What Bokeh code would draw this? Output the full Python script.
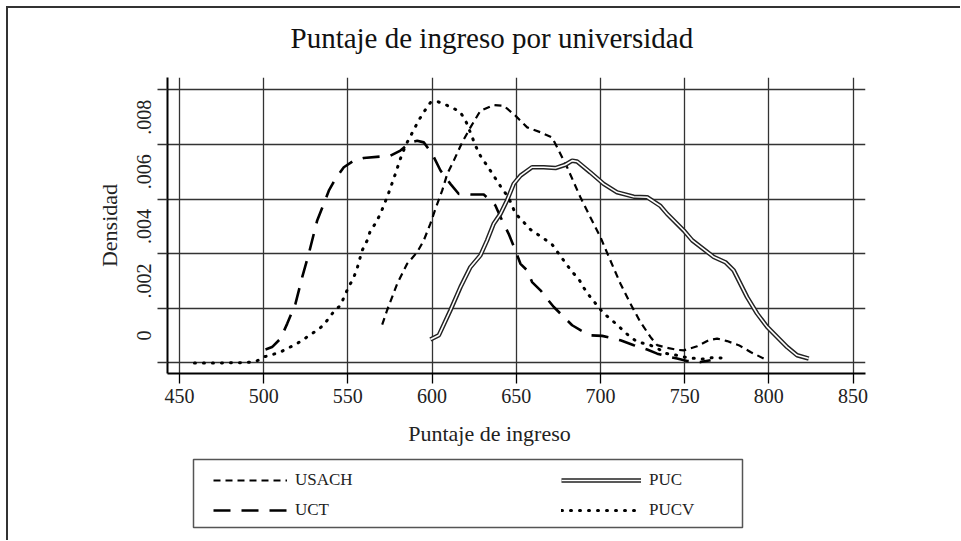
from bokeh.plotting import figure
from bokeh.layouts import column
from bokeh.models import FixedTicker, Legend, LegendItem, Range1d, Label, BoxAnnotation
from bokeh.embed import file_html
from bokeh.resources import INLINE

# ---------------- data ----------------
usach_x = [570.4, 573.3, 579.3, 585.2, 591.2, 595.1, 599.0, 602.0, 606.0, 609.0, 612.9, 617.9,
           622.8, 628.7, 636.6, 642.6, 649.5, 656.5, 664.4, 671.3, 674.3, 680.2, 688.1, 694.0,
           700.0, 705.9, 711.9, 717.8, 723.7, 729.7, 733.7, 739.6, 745.5, 749.5, 757.4, 764.3,
           769.3, 775.2, 782.1, 789.1, 797.0]
usach_y = [0.00140, 0.00193, 0.00290, 0.00363, 0.00406, 0.00449, 0.00510, 0.00564, 0.00631,
           0.00692, 0.00741, 0.00808, 0.00863, 0.00924, 0.00945, 0.00942, 0.00906, 0.00863,
           0.00845, 0.00826, 0.00790, 0.00717, 0.00607, 0.00534, 0.00461, 0.00375, 0.00290,
           0.00217, 0.00150, 0.00095, 0.00065, 0.00055, 0.00048, 0.00046, 0.00061, 0.00083,
           0.00089, 0.00080, 0.00065, 0.00040, 0.00016]

uct_x = [501.1, 505.0, 510.0, 514.0, 518.9, 522.9, 526.8, 531.8, 535.7, 538.7, 542.6, 547.6,
         553.5, 559.4, 569.4, 575.3, 581.2, 587.2, 591.2, 595.1, 600.1, 605.0, 610.9, 615.9,
         622.8, 630.7, 634.7, 637.6, 641.6, 645.5, 649.5, 652.5, 656.5, 659.4, 664.4, 668.3,
         672.3, 677.3, 683.2, 688.1, 694.0, 701.0, 707.9, 711.9, 719.8, 727.7, 733.7, 739.6,
         745.5, 751.5, 759.4, 765.4]
uct_y = [0.00049, 0.00058, 0.00089, 0.00144, 0.00217, 0.00314, 0.00400, 0.00522, 0.00583,
         0.00631, 0.00674, 0.00717, 0.00741, 0.00751, 0.00756, 0.00759, 0.00778, 0.00808,
         0.00814, 0.00808, 0.00766, 0.00705, 0.00656, 0.00619, 0.00617, 0.00617, 0.00595,
         0.00577, 0.00522, 0.00473, 0.00412, 0.00363, 0.00339, 0.00296, 0.00266, 0.00235,
         0.00205, 0.00174, 0.00138, 0.00120, 0.00101, 0.00099, 0.00089, 0.00083, 0.00065,
         0.00049, 0.00034, 0.00024, 0.00016, 0.00007, 0.00003, 0.00010]

puc_x = [599.0, 604.0, 610.9, 616.9, 622.8, 628.7, 632.7, 636.6, 640.6, 644.5, 648.5, 652.5,
         659.4, 666.3, 673.3, 679.2, 683.2, 686.1, 694.0, 701.9, 709.9, 719.8, 727.7, 735.6,
         739.6, 749.5, 754.5, 767.3, 774.2, 779.1, 787.1, 793.0, 799.0, 810.9, 816.8, 823.7]
puc_y = [0.00086, 0.00101, 0.00193, 0.00278, 0.00351, 0.00394, 0.00449, 0.00510, 0.00546,
         0.00595, 0.00656, 0.00686, 0.00717, 0.00717, 0.00714, 0.00726, 0.00741, 0.00738,
         0.00698, 0.00656, 0.00625, 0.00609, 0.00607, 0.00575, 0.00546, 0.00485, 0.00449,
         0.00388, 0.00369, 0.00339, 0.00241, 0.00181, 0.00132, 0.00058, 0.00028, 0.00016]

pucv_x = [458.9, 474.3, 489.2, 495.7, 500.1, 504.0, 510.0, 519.9, 525.8, 531.8, 535.5, 541.4,
          545.6, 550.4, 553.3, 555.5, 558.5, 561.5, 563.4, 566.4, 569.4, 574.1, 578.3, 581.2,
          584.2, 588.9, 591.9, 594.9, 599.0, 603.0, 606.8, 611.9, 616.9, 620.4, 625.8, 628.7,
          634.7, 641.6, 645.4, 649.5, 653.5, 658.4, 664.4, 671.3, 675.1, 683.2, 686.9, 689.9,
          694.0, 698.0, 701.8, 706.9, 711.9, 716.6, 721.8, 728.5, 733.7, 738.6, 745.5, 749.3,
          755.2, 760.4, 767.1, 774.2]
pucv_y = [0.0, 0.0, 0.00001, 0.00006, 0.00022, 0.00028, 0.00040, 0.00071, 0.00095, 0.00120,
          0.00138, 0.00186, 0.00211, 0.00278, 0.00310, 0.00346, 0.00412, 0.00449, 0.00485,
          0.00511, 0.00547, 0.00620, 0.00694, 0.00748, 0.00796, 0.00851, 0.00887, 0.00917,
          0.00954, 0.00958, 0.00949, 0.00936, 0.00918, 0.00881, 0.00796, 0.00759, 0.00704,
          0.00638, 0.00607, 0.00547, 0.00522, 0.00489, 0.00464, 0.00434, 0.00401, 0.00333,
          0.00310, 0.00277, 0.00241, 0.00211, 0.00182, 0.00156, 0.00128, 0.00101, 0.00077,
          0.00068, 0.00054, 0.00035, 0.00028, 0.00022, 0.00017, 0.00014, 0.00020, 0.00017]

x_ticks = [450, 500, 550, 600, 650, 700, 750, 800, 850]
y_grid = [0.0, 0.002, 0.004, 0.006, 0.008, 0.010]
y_label_pos = [0.001, 0.003, 0.005, 0.007, 0.009]
y_labels = ["0", ".002", ".004", ".006", ".008"]

series_names = ["USACH", "UCT", "PUC", "PUCV"]
title_text = "Puntaje de ingreso por universidad"
x_title = "Puntaje de ingreso"
y_title = "Densidad"

SERIF = "Liberation Serif"
INK = "#222"
W = 960
P_H = 414
Q_H = 126

p = figure(width=W, height=P_H, output_backend="svg", toolbar_location=None,
           x_range=Range1d(442.9, 857.4), y_range=Range1d(-0.000388, 0.010457),
           min_border_left=167, min_border_right=95, min_border_top=77, min_border_bottom=41,
           background_fill_color="white", border_fill_color=None,
           styles={"box-shadow": "inset 6px 6px 0 0 #fff, inset 8px 8px 0 0 #333"})
p.outline_line_color = None

# title
p.title.text = title_text
p.title.text_font = SERIF
p.title.text_font_size = "29px"
p.title.text_font_style = "normal"
p.title.text_color = "#111"
p.title.align = "left"
p.title.offset = 123
p.title.vertical_align = "top"
p.title.standoff = 43

# grids
p.xgrid.ticker = FixedTicker(ticks=x_ticks)
p.ygrid.ticker = FixedTicker(ticks=y_grid)
for g in (p.xgrid[0], p.ygrid[0]):
    g.grid_line_color = "#333"
    g.grid_line_width = 1.3

# x axis
xa = p.xaxis[0]
xa.ticker = FixedTicker(ticks=x_ticks)
xa.major_tick_out = 10
xa.major_tick_in = 0
xa.major_tick_line_width = 1.3
xa.axis_line_width = 2
xa.major_label_text_font = SERIF
xa.major_label_text_font_size = "20px"
xa.major_label_text_color = INK
xa.major_label_standoff = 5

# y axis
ya = p.yaxis[0]
ya.ticker = FixedTicker(ticks=y_label_pos, minor_ticks=y_grid)
ya.major_label_overrides = {v: s for v, s in zip(y_label_pos, y_labels)}
ya.major_tick_out = 0
ya.major_tick_in = 0
ya.minor_tick_out = 10
ya.minor_tick_in = 0
ya.minor_tick_line_color = "#333"
ya.minor_tick_line_width = 1.3
ya.axis_line_width = 2
ya.major_label_orientation = "vertical"
ya.major_label_text_font = SERIF
ya.major_label_text_font_size = "20px"
ya.major_label_text_color = INK
ya.major_label_standoff = 6
ya.axis_label = y_title
ya.axis_label_text_font = SERIF
ya.axis_label_text_font_size = "22px"
ya.axis_label_text_font_style = "normal"
ya.axis_label_text_color = INK
ya.axis_label_standoff = 13

# line styles
sty_usach = dict(line_color="black", line_width=2.2, line_dash="7 5")
sty_uct = dict(line_color="black", line_width=2.6, line_dash="17 11")
sty_puc_o = dict(line_color="#222", line_width=4.5)
sty_puc_i = dict(line_color="white", line_width=1.6)
sty_pucv = dict(line_color="black", line_width=3, line_dash="1 8", line_cap="round")

p.line(usach_x, usach_y, **sty_usach)
p.line(uct_x, uct_y, **sty_uct)
p.line(puc_x, puc_y, **sty_puc_o)
p.line(puc_x, puc_y, **sty_puc_i)
p.line(pucv_x, pucv_y, **sty_pucv)

# ---------------- lower strip: x-axis title + legend ----------------
# ranges map page pixels (x right, y down) so text can be laid out precisely
q = figure(width=W, height=Q_H, output_backend="svg", toolbar_location=None,
           x_range=Range1d(167, 865), y_range=Range1d(P_H + Q_H, P_H),
           x_axis_type=None, y_axis_type=None,
           min_border_left=167, min_border_right=95, min_border_top=0, min_border_bottom=0,
           background_fill_color=None, border_fill_color=None,
           styles={"box-shadow": "inset 6px 0 0 0 #fff, inset 8px 0 0 0 #333"})
q.outline_line_color = None
q.grid.visible = False

q.add_layout(Label(x=489, y=433, text=x_title, text_font=SERIF, text_font_size="22px",
                   text_color=INK, text_align="center", text_baseline="middle"))

# legend frame
q.add_layout(BoxAnnotation(left=193, right=742, top=459, bottom=527,
                           fill_color="white", fill_alpha=1.0,
                           line_color="#555", line_width=1.5, line_alpha=1.0))

# legend proxies (same series; they fall outside this strip's visible range)
l_usach = q.line(usach_x, usach_y, **sty_usach)
l_uct = q.line(uct_x, uct_y, **sty_uct)
l_puc_o = q.line(puc_x, puc_y, **sty_puc_o)
l_puc_i = q.line(puc_x, puc_y, **sty_puc_i)
l_pucv = q.line(pucv_x, pucv_y, **sty_pucv)

common = dict(orientation="vertical", glyph_height=20, label_height=20, spacing=10, padding=0,
              margin=0, label_text_font=SERIF, label_text_font_size="17px",
              label_text_color=INK, label_standoff=8, label_width=20,
              border_line_color=None, background_fill_alpha=0.0)

legA = Legend(items=[LegendItem(label=series_names[0], renderers=[l_usach]),
                     LegendItem(label=series_names[1], renderers=[l_uct])],
              location=(46, 20), glyph_width=74, **common)
legB = Legend(items=[LegendItem(label=series_names[2], renderers=[l_puc_o, l_puc_i]),
                     LegendItem(label=series_names[3], renderers=[l_pucv])],
              location=(394, 20), glyph_width=80, **common)
q.add_layout(legA, "center")
q.add_layout(legB, "center")

layout = column(p, q, spacing=0)
open("out.html", "w").write(file_html(layout, INLINE))
